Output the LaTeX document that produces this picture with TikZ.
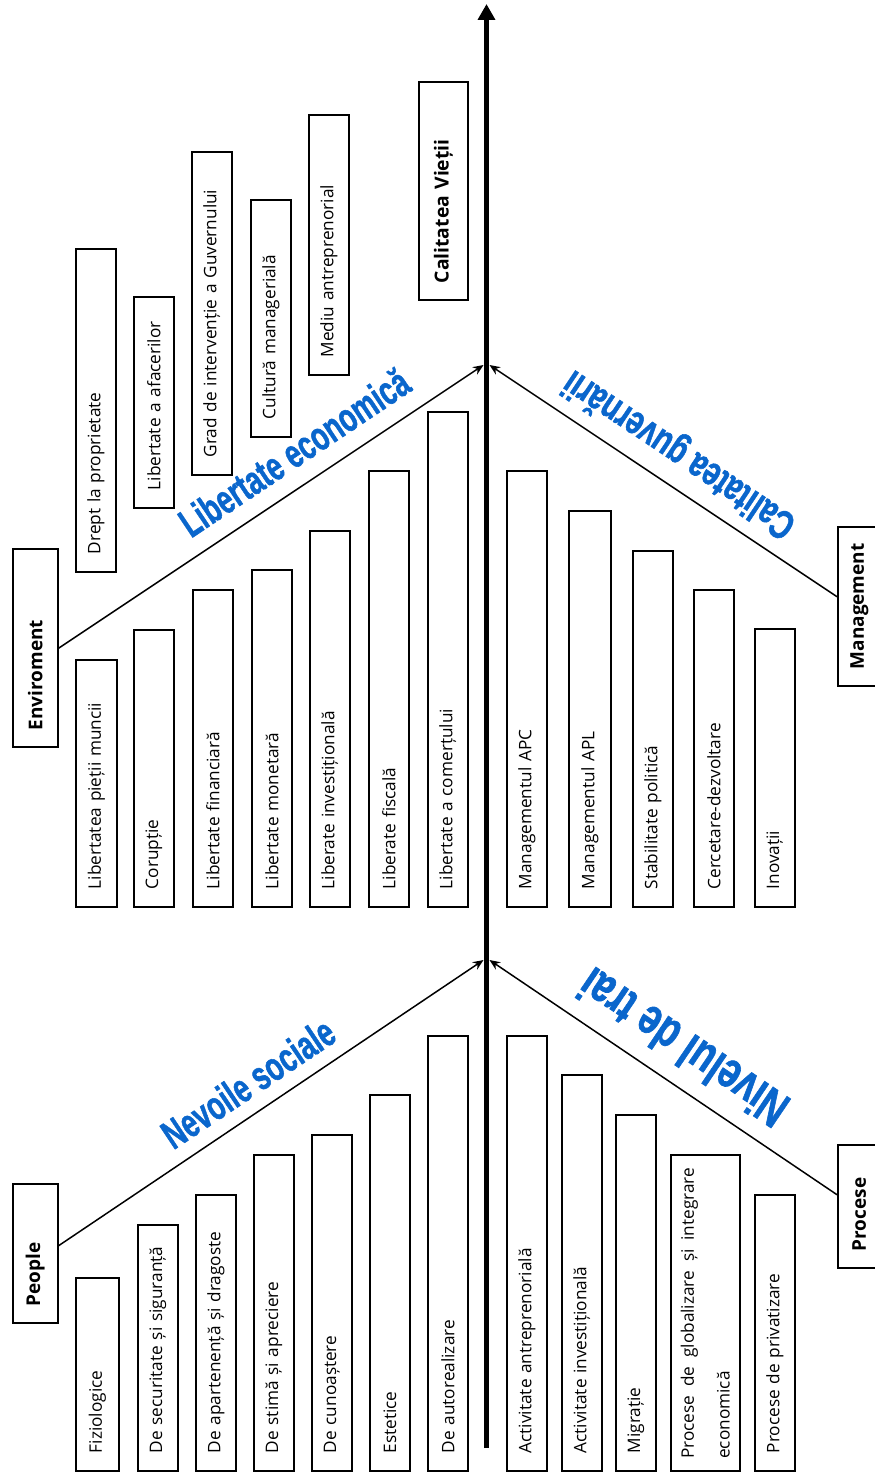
\documentclass[tikz,border=0pt]{standalone}
\usepackage{fontspec}
\setmainfont{Open Sans}
\newfontfamily\bonefont{Liberation Sans}[BoldFeatures={FakeBold=1.5}]
\usepackage{graphicx}
\usetikzlibrary{arrows.meta,calc}
\definecolor{bone blue}{RGB}{10,102,204}
\hyphenpenalty=10000
\exhyphenpenalty=10000
\newdimen\px \px=0.02cm
\tikzstyle{factor} = [draw, line width=0.9pt, rotate=90, anchor=north west, minimum height=40\px, inner xsep=18\px, inner ysep=0pt, align=left, font=\fontsize{9.8}{12}\selectfont]
\tikzstyle{title} = [factor, inner xsep=17\px, font=\fontsize{10.8}{13}\selectfont\bfseries]
\tikzstyle{bone} = [line width=0.85pt, -{Stealth[length=6pt,width=5pt]}]
\tikzstyle{bone label} = [text=bone blue, inner sep=0pt, font=\bonefont\bfseries\fontsize{23}{23}\selectfont]

\begin{document}
\begin{tikzpicture}[x=0.02cm,y=-0.02cm]
        \useasboundingbox (0,0) rectangle (875,1474);

        % spine
        \coordinate (tail) at (486.5,1448);
        \coordinate (head) at (486.5,4);
        \coordinate (ju l) at (483.5,365);
        \coordinate (ju r) at (489.5,365);
        \coordinate (jl l) at (483.5,960);
        \coordinate (jl r) at (489.5,960);
        \draw[line width=2.8pt, -{Triangle[length=9pt,width=9.5pt]}] (tail) -- (head);

        \node[title, minimum height=49\px, text width=184\px, font=\fontsize{11}{13}\selectfont\bfseries] (qol) at (418,301) {Calitatea Vieții};

        % categories
        \node[title, minimum height=45\px, text width=164\px] (env) at (12,748) {Enviroment};
        \node[title, minimum height=45\px, text width=105\px] (people) at (12,1324) {People};
        \node[title, minimum height=43\px, text width=125\px] (mgmt) at (837,687) {Management};
        \node[title, minimum height=43\px, text width=89\px] (proc) at (837,1269) {Procese};

        % Libertate economica, above the bone
        \node[factor, text width=287\px] (a1) at (75,573) {Drept la proprietate};
        \node[factor, text width=175\px] (a2) at (133,509) {Libertate a afacerilor};
        \node[factor, text width=287\px] (a3) at (191,476) {Grad de intervenție a Guvernului};
        \node[factor, text width=201\px] (a4) at (250,438) {Cultură managerială};
        \node[factor, text width=224\px] (a5) at (308,376) {Mediu antreprenorial};

        % Libertate economica, below the bone
        \node[factor, minimum height=41\px, text width=211\px] (e1) at (75,908) {Libertatea pieții muncii};
        \node[factor, text width=241\px] (e2) at (133,908) {Corupție};
        \node[factor, text width=281\px] (e3) at (192,908) {Libertate financiară};
        \node[factor, text width=301\px] (e4) at (251,908) {Libertate monetară};
        \node[factor, text width=340\px] (e5) at (309,908) {Liberate investițională};
        \node[factor, text width=400\px] (e6) at (368,908) {Liberate fiscală};
        \node[factor, text width=459\px] (e7) at (427,908) {Libertate a comerțului};

        % Nevoile sociale
        \node[factor, minimum height=43\px, text width=157\px] (s1) at (75,1472) {Fiziologice};
        \node[factor, text width=210\px] (s2) at (137,1472) {De securitate și siguranță};
        \node[factor, text width=240\px] (s3) at (195,1472) {De apartenență și dragoste};
        \node[factor, text width=280\px] (s4) at (253,1472) {De stimă și apreciere};
        \node[factor, text width=300\px] (s5) at (311,1472) {De cunoaștere};
        \node[factor, text width=340\px] (s6) at (369,1472) {Estetice};
        \node[factor, text width=399\px] (s7) at (427,1472) {De autorealizare};

        % Calitatea guvernarii
        \node[factor, text width=400\px] (g1) at (506,908) {Managementul APC};
        \node[factor, minimum height=42\px, text width=360\px] (g2) at (568,908) {Managementul APL};
        \node[factor, text width=320\px] (g3) at (632,908) {Stabilitate politică};
        \node[factor, text width=281\px] (g4) at (693,908) {Cercetare-dezvoltare};
        \node[factor, text width=242\px] (g5) at (754,908) {Inovații};

        % Nivelul de trai
        \node[factor, text width=399\px] (n1) at (506,1472) {Activitate antreprenorială};
        \node[factor, text width=360\px] (n2) at (561,1472) {Activitate investițională};
        \node[factor, text width=320\px] (n3) at (615,1472) {Migrație};
        \node[factor, minimum height=69\px, inner xsep=12.5\px, text width=291\px, align=justify, font=\fontsize{9.8}{20.4}\selectfont] (n4) at (670,1472) {Procese de globalizare și integrare \mbox{economică}};
        \node[factor, text width=240\px] (n5) at (754,1472) {Procese de privatizare};

        % bones
        \draw[bone] (env.south) -- (ju l);
        \draw[bone] ([yshift=8\px]people.south) -- (jl l);
        \draw[bone] ([yshift=10\px]mgmt.north) -- (ju r);
        \draw[bone] ([yshift=12\px]proc.north) -- (jl r);

        \node[bone label, rotate=33.8] (lib) at (294,452) {\scalebox{0.68}[1]{Libertate economică}};
        \node[bone label, rotate=33.8] (nev) at (248,1083) {\scalebox{0.68}[1]{Nevoile sociale}};
        \node[bone label, rotate=146.3] (guv) at (680,453) {\scalebox{0.72}[1]{Calitatea guvernării}};
        \node[bone label, rotate=145.9, font=\bonefont\bfseries\fontsize{29}{29}\selectfont] (trai) at (683,1048) {\scalebox{0.72}[1]{Nivelul de trai}};
\end{tikzpicture}
\end{document}
